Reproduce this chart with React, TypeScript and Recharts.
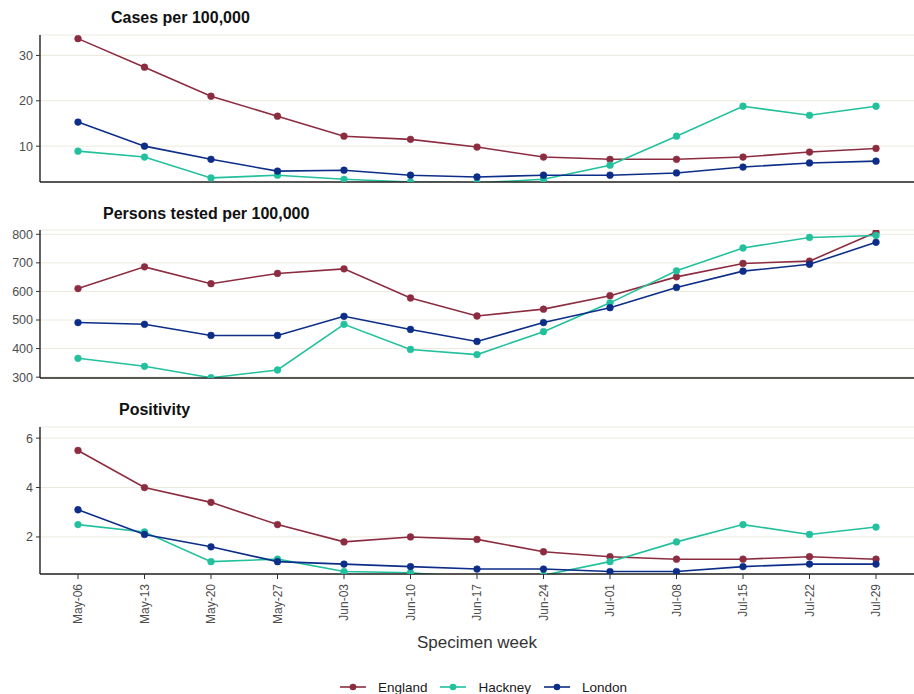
import React from "react";
import { CartesianGrid, Legend, Line, LineChart, XAxis, YAxis } from "recharts";

const weeks = [
  "May-06", "May-13", "May-20", "May-27", "Jun-03", "Jun-10", "Jun-17",
  "Jun-24", "Jul-01", "Jul-08", "Jul-15", "Jul-22", "Jul-29"
];

// cases per 100,000
const casesEngland = [33.7, 27.4, 21.0, 16.6, 12.2, 11.5, 9.8, 7.6, 7.1, 7.1, 7.6, 8.7, 9.5];
const casesHackney = [8.9, 7.6, 3.0, 3.6, 2.7, 2.1, 1.9, 2.7, 5.8, 12.2, 18.8, 16.8, 18.8];
const casesLondon = [15.3, 10.0, 7.1, 4.5, 4.7, 3.6, 3.2, 3.6, 3.6, 4.1, 5.4, 6.3, 6.7];
const casesTicks = [10, 20, 30];

// persons tested per 100,000
const testedEngland = [610, 686, 627, 663, 679, 577, 514, 538, 585, 651, 698, 706, 807];
const testedHackney = [366, 338, 298, 325, 485, 397, 379, 459, 560, 672, 752, 789, 796];
const testedLondon = [491, 485, 446, 446, 513, 467, 425, 491, 543, 614, 671, 695, 772];
const testedTicks = [300, 400, 500, 600, 700, 800];

// positivity (%)
const posEngland = [5.5, 4.0, 3.4, 2.5, 1.8, 2.0, 1.9, 1.4, 1.2, 1.1, 1.1, 1.2, 1.1];
const posHackney = [2.5, 2.2, 1.0, 1.1, 0.6, 0.55, 0.35, 0.45, 1.0, 1.8, 2.5, 2.1, 2.4];
const posLondon = [3.1, 2.1, 1.6, 1.0, 0.9, 0.8, 0.7, 0.7, 0.6, 0.6, 0.8, 0.9, 0.9];
const posTicks = [2, 4, 6];

const series = [
  { key: "England", color: "#8c2c40" },
  { key: "Hackney", color: "#22c09c" },
  { key: "London", color: "#0c2d88" }
];

const build = (e: number[], h: number[], l: number[]) =>
  weeks.map((week, i) => ({ week, England: e[i], Hackney: h[i], London: l[i] }));

const casesData = build(casesEngland, casesHackney, casesLondon);
const testedData = build(testedEngland, testedHackney, testedLondon);
const posData = build(posEngland, posHackney, posLondon);

const FONT = "'Liberation Sans', Arial, sans-serif";
const W = 914;

const RotatedTick = (props: any) => {
  const { x, y, payload } = props;
  return (
    <text
      x={x}
      y={y}
      transform={`rotate(-90 ${x} ${y})`}
      textAnchor="end"
      dominantBaseline="central"
      fill="#4d4d4d"
      fontSize={12}
      fontFamily={FONT}
    >
      {payload.value}
    </text>
  );
};

const LegendContent = () => (
  <div
    style={{
      display: "flex",
      justifyContent: "center",
      alignItems: "center",
      height: 14,
      fontFamily: FONT,
      fontSize: 13.5,
      color: "#1a1a1a",
      paddingLeft: 66
    }}
  >
    {series.map((s) => (
      <div key={s.key} style={{ display: "flex", alignItems: "center", marginRight: 13 }}>
        <svg width={26} height={10} style={{ marginRight: 12 }}>
          <line x1={0} y1={5} x2={26} y2={5} stroke={s.color} strokeWidth={1.6} />
          <circle cx={13} cy={5} r={3.3} fill={s.color} />
        </svg>
        <span>{s.key}</span>
      </div>
    ))}
  </div>
);

type PanelProps = {
  data: any[];
  domain: [number, number];
  ticks: number[];
  height: number;
  top: number;
  bottomAxis?: boolean;
};

function Panel({ data, domain, ticks, height, top, bottomAxis }: PanelProps) {
  return (
    <LineChart
      width={W}
      height={height}
      data={data}
      margin={{ top, right: 0, bottom: 0, left: 0 }}
    >
      <CartesianGrid vertical={false} stroke="#ebe9dd" strokeWidth={1} />
      <XAxis
        dataKey="week"
        padding={{ left: 38, right: 38 }}
        axisLine={{ stroke: "#222", strokeWidth: 1.4 }}
        tickLine={{ stroke: "#333" }}
        tickSize={5}
        tickMargin={5}
        interval={0}
        height={bottomAxis ? 106 : 14}
        tick={bottomAxis ? <RotatedTick /> : false}
        label={
          bottomAxis
            ? {
                value: "Specimen week",
                position: "insideBottom",
                offset: 32,
                fill: "#333",
                fontSize: 17,
                fontFamily: FONT
              }
            : undefined
        }
      />
      <YAxis
        width={40}
        domain={domain}
        ticks={ticks}
        allowDataOverflow
        axisLine={{ stroke: "#222", strokeWidth: 1.4 }}
        tickLine={{ stroke: "#333" }}
        tickSize={4}
        tickMargin={3}
        tick={{ fill: "#4d4d4d", fontSize: 12.5, fontFamily: FONT }}
      />
      {bottomAxis && <Legend verticalAlign="bottom" content={<LegendContent />} />}
      {series.map((s) => (
        <Line
          key={s.key}
          type="linear"
          dataKey={s.key}
          stroke={s.color}
          strokeWidth={1.6}
          dot={{ r: 3.4, fill: s.color, stroke: s.color, strokeWidth: 0.5 }}
          isAnimationActive={false}
        />
      ))}
    </LineChart>
  );
}

const titleStyle = (top: number, left: number): React.CSSProperties => ({
  position: "absolute",
  top,
  left,
  fontFamily: FONT,
  fontWeight: "bold",
  fontSize: 16,
  lineHeight: "20px",
  color: "#111",
  whiteSpace: "nowrap"
});

export default function App() {
  return (
    <div style={{ position: "absolute", top: 0, left: 0, width: W, height: 694, background: "#fff" }}>
      <div style={{ position: "absolute", top: 0, left: 0 }}>
        <Panel data={casesData} domain={[2.1, 34.5]} ticks={casesTicks} height={196} top={35} />
      </div>
      <div style={{ position: "absolute", top: 196, left: 0 }}>
        <Panel data={testedData} domain={[297, 815]} ticks={testedTicks} height={196} top={34} />
      </div>
      <div style={{ position: "absolute", top: 392, left: 0 }}>
        <Panel data={posData} domain={[0.5, 6.45]} ticks={posTicks} height={302} top={35} bottomAxis />
      </div>
      <div style={titleStyle(8, 111)}>Cases per 100,000</div>
      <div style={titleStyle(204, 103)}>Persons tested per 100,000</div>
      <div style={titleStyle(400, 119)}>Positivity</div>
    </div>
  );
}
